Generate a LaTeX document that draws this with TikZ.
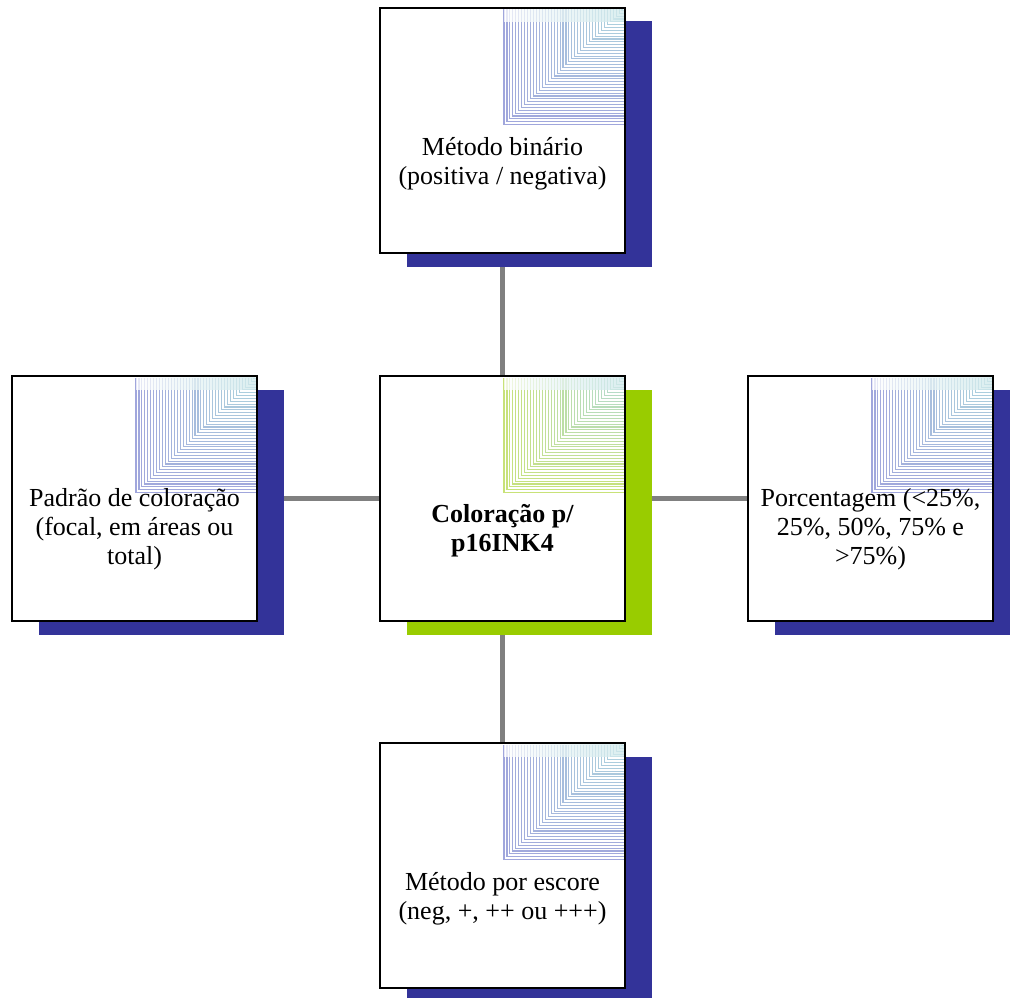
\documentclass[tikz,border=0pt]{standalone}
\usepackage{fontspec}
\setmainfont{Liberation Serif}
\usetikzlibrary{backgrounds}

\definecolor{navyshadow}{RGB}{51,51,153}
\definecolor{limeshadow}{RGB}{153,204,0}
\definecolor{linkgray}{RGB}{128,128,128}
\definecolor{stripeblue}{RGB}{160,166,220}
\definecolor{stripegreen}{RGB}{200,226,120}
\definecolor{stripeteal}{RGB}{176,218,222}

\tikzset{
  box/.style={draw=black, line width=2pt, fill=white, minimum width=245pt, minimum height=245pt, inner sep=0pt},
  boxtext/.style={align=center, font=\fontsize{26}{29}\selectfont},
  link/.style={draw=linkgray, line width=5pt}
}

\begin{document}
\begin{tikzpicture}[x=1pt,y=-1pt]
\useasboundingbox (0,0) rectangle (1010,998);

% draw shadows, boxes and the striped corners
\foreach \name/\x/\y/\shadowcol/\stripe in {top/502.5/130.5/navyshadow/stripeblue, left/134.5/498.5/navyshadow/stripeblue, mid/502.5/498.5/limeshadow/stripegreen, right/870.5/498.5/navyshadow/stripeblue, bot/502.5/865.5/navyshadow/stripeblue}
{
	\fill[\shadowcol] (\x-96,\y-109) rectangle (\x+149,\y+136);
	\node[box] (\name) at (\x,\y) {};
	\foreach \k in {0,...,40}
	{
		\pgfmathsetmacro\mix{100-2.2*\k}
		\draw[\stripe!\mix!stripeteal, line width=1.1pt] (\x+1.5+2.95*\k,\y-121) -- (\x+1.5+2.95*\k,\y-6-2.85*\k) -- (\x+121,\y-6-2.85*\k);
	}
	\shade[left color=white, right color=stripeteal!60, opacity=0.75] (\x+1.5,\y-121) rectangle (\x+121,\y-109);
}

% draw connectors behind everything
\begin{pgfonlayer}{background}
\draw[link] (top) -- (mid);
\draw[link] (left) -- (mid);
\draw[link] (mid) -- (right);
\draw[link] (mid) -- (bot);
\end{pgfonlayer}

% labels
\node[boxtext] (topTxt) at ([yshift=-33pt]top.center) {Método binário\\(positiva / negativa)};
\node[boxtext] (leftTxt) at ([yshift=-31pt]left.center) {Padrão de coloração\\(focal, em áreas ou\\total)};
\node[boxtext, font=\fontsize{26}{29}\selectfont\bfseries] (midTxt) at ([yshift=-32pt]mid.center) {Coloração p/\\p16INK4};
\node[boxtext] (rightTxt) at ([yshift=-31pt]right.center) {Porcentagem (<25\%,\\25\%, 50\%, 75\% e\\>75\%)};
\node[boxtext] (botTxt) at ([yshift=-33pt]bot.center) {Método por escore\\(neg, +, ++ ou +++)};

\end{tikzpicture}
\end{document}
